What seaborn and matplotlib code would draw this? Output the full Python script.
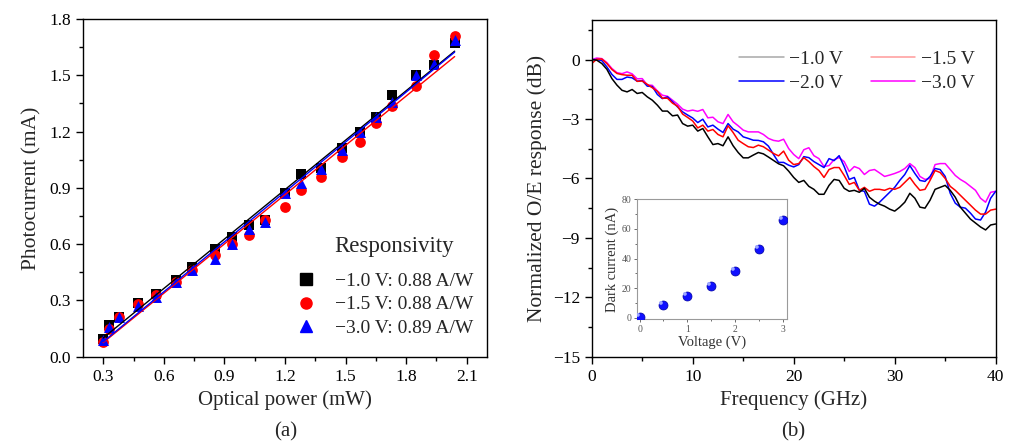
import numpy as np
import pandas as pd
import matplotlib
matplotlib.use("Agg")
import matplotlib.pyplot as plt
from matplotlib.lines import Line2D
from matplotlib.ticker import MultipleLocator
import matplotlib.path as mpath
import seaborn as sns

# ---------------- data: panel (a) ----------------
power_mw = [0.30, 0.33, 0.38, 0.47, 0.56, 0.66, 0.74, 0.855, 0.94, 1.02, 1.10,
            1.20, 1.28, 1.38, 1.48, 1.57, 1.65, 1.73, 1.85, 1.94, 2.04]
current_1v0 = [0.093, 0.17, 0.213, 0.288, 0.334, 0.41, 0.48, 0.573, 0.636, 0.70, 0.73,
               0.87, 0.974, 1.004, 1.11, 1.20, 1.28, 1.395, 1.50, 1.555, 1.67]
current_1v5 = [0.077, 0.15, 0.21, 0.28, 0.33, 0.40, 0.46, 0.54, 0.60, 0.65, 0.73,
               0.80, 0.886, 0.956, 1.067, 1.147, 1.245, 1.337, 1.443, 1.61, 1.71]
current_3v0 = [0.09, 0.16, 0.21, 0.27, 0.32, 0.40, 0.46, 0.52, 0.60, 0.68, 0.72,
               0.87, 0.928, 1.00, 1.10, 1.20, 1.276, 1.36, 1.50, 1.56, 1.69]
resp_labels = ["\u22121.0 V: 0.88 A/W", "\u22121.5 V: 0.88 A/W", "\u22123.0 V: 0.89 A/W"]
resp_title = "Responsivity"

# ---------------- data: panel (b) ----------------
freq_ghz = [0.0, 0.5, 1.0, 1.5, 2.0, 2.5, 3.0, 3.5, 4.0, 4.5, 5.0, 5.5, 6.0, 6.5, 7.0, 7.5,
            8.0, 8.5, 9.0, 9.5, 10.0, 10.5, 11.0, 11.5, 12.0, 12.5, 13.0, 13.5, 14.0, 14.5,
            15.0, 15.5, 16.0, 16.5, 17.0, 17.5, 18.0, 18.5, 19.0, 19.5, 20.0, 20.5, 21.0,
            21.5, 22.0, 22.5, 23.0, 23.5, 24.0, 24.5, 25.0, 25.5, 26.0, 26.5, 27.0, 27.5,
            28.0, 28.5, 29.0, 29.5, 30.0, 30.5, 31.0, 31.5, 32.0, 32.5, 33.0, 33.5, 34.0,
            34.5, 35.0, 35.5, 36.0, 36.5, 37.0, 37.5, 38.0, 38.5, 39.0, 39.5, 40.0]
resp_1v0 = [0.0, -0.03, -0.2, -0.49, -0.96, -1.29, -1.55, -1.63, -1.51, -1.71, -1.66, -1.88,
            -2.05, -2.3, -2.6, -2.6, -2.84, -2.8, -3.23, -3.36, -3.31, -3.61, -3.48, -3.9,
            -4.29, -4.24, -4.35, -3.9, -4.35, -4.69, -4.96, -4.96, -4.82, -4.69, -4.76, -4.92,
            -5.09, -5.26, -5.36, -5.63, -5.95, -6.2, -6.1, -6.4, -6.55, -6.8, -6.8, -6.35,
            -6.05, -6.1, -6.5, -6.65, -6.6, -6.7, -6.5, -6.95, -7.15, -7.3, -7.4, -7.55,
            -7.65, -7.45, -7.2, -6.75, -7.0, -7.45, -7.5, -7.1, -6.55, -6.45, -6.35, -6.6,
            -6.95, -7.45, -7.75, -8.05, -8.25, -8.45, -8.6, -8.35, -8.3]
resp_1v5 = [-0.2, 0.02, 0.03, -0.2, -0.5, -0.7, -0.76, -0.79, -0.79, -1.1, -1.08, -1.25,
            -1.42, -1.6, -1.95, -1.95, -2.2, -2.35, -2.75, -2.92, -3.1, -3.45, -3.31, -3.61,
            -3.53, -3.78, -3.9, -3.34, -3.68, -4.07, -4.24, -4.4, -4.44, -4.32, -4.4, -4.57,
            -4.74, -4.86, -4.62, -5.08, -5.3, -5.25, -4.95, -5.15, -5.4, -5.6, -5.95, -5.55,
            -5.45, -5.45, -5.85, -6.3, -6.2, -6.6, -6.45, -6.65, -6.55, -6.55, -6.6, -6.5,
            -6.55, -6.45, -6.2, -5.95, -6.3, -6.6, -6.55, -6.1, -5.6, -5.7, -6.0, -6.4,
            -6.6, -6.85, -7.1, -7.35, -7.6, -7.8, -7.8, -7.6, -7.55]
resp_2v0 = [0.0, 0.0, -0.05, -0.37, -0.75, -1.0, -1.0, -0.88, -0.92, -1.09, -1.06, -1.34,
            -1.36, -1.76, -1.97, -1.88, -2.13, -2.39, -2.64, -2.8, -2.95, -3.18, -3.01, -3.4,
            -3.31, -3.51, -3.68, -3.23, -3.51, -3.65, -3.9, -3.98, -4.07, -4.08, -4.15, -4.37,
            -4.79, -5.19, -5.19, -5.33, -5.42, -5.3, -4.9, -4.95, -5.15, -5.3, -5.45, -5.0,
            -5.1, -4.85, -5.4, -6.05, -5.95, -6.6, -6.65, -7.3, -7.4, -7.2, -6.95, -6.7,
            -6.45, -6.1, -5.8, -5.35, -5.75, -6.1, -6.15, -5.9, -5.5, -5.55, -5.9, -6.75,
            -7.25, -7.45, -7.5, -7.75, -8.05, -8.1, -7.7, -7.0, -6.65]
resp_3v0 = [0.0, 0.08, 0.05, -0.15, -0.45, -0.66, -0.71, -0.62, -0.72, -0.97, -0.96, -1.28,
            -1.3, -1.58, -1.8, -1.85, -2.05, -2.25, -2.5, -2.6, -2.55, -2.61, -2.52, -2.94,
            -2.91, -3.14, -3.23, -2.77, -3.14, -3.34, -3.56, -3.65, -3.65, -3.65, -3.78, -3.98,
            -4.08, -4.12, -4.02, -4.49, -4.79, -5.0, -4.55, -4.45, -4.85, -5.0, -5.4, -5.35,
            -5.05, -4.95, -5.15, -5.65, -5.4, -5.5, -5.8, -5.6, -5.55, -5.72, -5.9, -5.83,
            -5.75, -5.65, -5.5, -5.25, -5.45, -5.9, -6.05, -6.0, -5.3, -5.25, -5.25, -5.55,
            -5.85, -6.05, -6.2, -6.4, -6.6, -7.0, -7.2, -6.7, -6.65]
bias_labels = ["\u22121.0 V", "\u22121.5 V", "\u22122.0 V", "\u22123.0 V"]

# inset: dark current
voltage_v = [0, 0.5, 1.0, 1.5, 2.0, 2.5, 3.0]
dark_na = [0.3, 8.5, 15.0, 21.7, 31.4, 46.4, 66.1]

# ---------------- style ----------------
sns.set_theme(style="ticks")
plt.rcParams["font.family"] = ["Liberation Serif", "DejaVu Serif"]
plt.rcParams["axes.unicode_minus"] = True

fig = plt.figure(figsize=(10.16, 4.48), dpi=100)
axA = fig.add_axes([0.0817, 0.2038, 0.3976, 0.7538])
axB = fig.add_axes([0.5824, 0.2038, 0.3976, 0.7516])

def style_axes(ax):
    for s in ax.spines.values():
        s.set_color("black")
        s.set_linewidth(1.0)
    ax.tick_params(which="both", direction="out", top=False, right=False,
                   colors="black", labelsize=12.5)
    ax.tick_params(which="major", length=5, width=1.0)
    ax.tick_params(which="minor", length=3, width=1.0)

# ---------------- panel (a) ----------------
series_a = [(current_1v0, "black", "s", 52), (current_1v5, "red", "o", 60),
            (current_3v0, "blue", "^", 62)]
handles_a = []
for (yv, col, mk, sz), lab in zip(series_a, resp_labels):
    sns.regplot(x=np.array(power_mw), y=np.array(yv), ax=axA, ci=None, truncate=True,
                marker=mk, color=col,
                scatter_kws=dict(s=sz, linewidths=0, alpha=1),
                line_kws=dict(lw=1.0))
    handles_a.append(Line2D([], [], ls="none", marker=mk, color=col, markersize=8, label=lab))

axA.set_xlim(0.2, 2.2)
axA.set_ylim(0, 1.8)
axA.xaxis.set_minor_locator(MultipleLocator(0.15))
axA.yaxis.set_minor_locator(MultipleLocator(0.15))
axA.set_xticks([0.3, 0.6, 0.9, 1.2, 1.5, 1.8, 2.1])
axA.set_xticklabels(["0.3", "0.6", "0.9", "1.2", "1.5", "1.8", "2.1"])
axA.set_yticks([0.0, 0.3, 0.6, 0.9, 1.2, 1.5, 1.8])
axA.set_yticklabels(["0.0", "0.3", "0.6", "0.9", "1.2", "1.5", "1.8"])
style_axes(axA)
axA.set_xlabel("Optical power (mW)", fontsize=15, labelpad=4)
axA.set_ylabel("Photocurrent (mA)", fontsize=15.5, labelpad=6)
axA.legend(handles=handles_a, loc="lower right", bbox_to_anchor=(0.99, 0.03),
           frameon=False, fontsize=14, handlelength=1.0, handletextpad=1.0,
           labelspacing=0.3, borderpad=0.0)
axA.text(0.77, 0.325, resp_title, transform=axA.transAxes, ha="center", va="center",
         fontsize=16.5)

# ---------------- panel (b) ----------------
df_b = pd.DataFrame({
    "freq": freq_ghz * 4,
    "resp": resp_1v0 + resp_1v5 + resp_2v0 + resp_3v0,
    "bias": sum([[b] * len(freq_ghz) for b in bias_labels], []),
})
pal = {bias_labels[0]: "black", bias_labels[1]: "red",
       bias_labels[2]: "blue", bias_labels[3]: "magenta"}
sns.lineplot(data=df_b, x="freq", y="resp", hue="bias", palette=pal, ax=axB,
             lw=1.1, legend=False, hue_order=[bias_labels[3], bias_labels[2],
                                               bias_labels[1], bias_labels[0]])
axB.set_xlim(0, 40)
axB.set_ylim(-15, 2)
axB.xaxis.set_major_locator(MultipleLocator(10))
axB.xaxis.set_minor_locator(MultipleLocator(5))
axB.yaxis.set_major_locator(MultipleLocator(3))
axB.yaxis.set_minor_locator(MultipleLocator(1.5))
style_axes(axB)
axB.set_xlabel("Frequency (GHz)", fontsize=15, labelpad=4)
axB.set_ylabel("Normalized O/E response (dB)", fontsize=15.5, labelpad=4)
handles_b = [Line2D([], [], color="#a8a8a8", lw=1.1, label=bias_labels[0]),
             Line2D([], [], color="blue", lw=1.1, label=bias_labels[2]),
             Line2D([], [], color="#ff9a9a", lw=1.1, label=bias_labels[1]),
             Line2D([], [], color="magenta", lw=1.1, label=bias_labels[3])]
axB.legend(handles=handles_b, ncol=2, loc="upper left", bbox_to_anchor=(0.34, 0.94),
           frameon=False, fontsize=14, handlelength=2.3, handletextpad=0.3,
           columnspacing=1.4, labelspacing=0.34, borderpad=0.0)

# ---------------- inset ----------------
axI = fig.add_axes([0.6267, 0.2873, 0.1476, 0.2679])
sns.scatterplot(x=voltage_v, y=dark_na, ax=axI, color="#1010ff", s=42,
                edgecolor="#0000a0", linewidth=0.5, zorder=3)
hl = mpath.Path.circle(center=(-0.3, 0.3), radius=0.22)
sns.scatterplot(x=voltage_v, y=dark_na, ax=axI, color="#9fa8ff", s=42, marker=hl,
                linewidth=0, zorder=4)
axI.set_xlim(-0.06, 3.08)
axI.set_ylim(-1, 80)
axI.xaxis.set_major_locator(MultipleLocator(1))
axI.xaxis.set_minor_locator(MultipleLocator(0.5))
axI.yaxis.set_major_locator(MultipleLocator(20))
axI.yaxis.set_minor_locator(MultipleLocator(10))
for s in axI.spines.values():
    s.set_color("#9a9a9a")
    s.set_linewidth(0.8)
axI.tick_params(which="both", direction="out", labelsize=7, colors="#555555",
                top=False, right=False, pad=1.5)
axI.tick_params(which="major", length=2.5, width=0.6)
axI.tick_params(which="minor", length=1.5, width=0.6)
axI.set_xlabel("Voltage (V)", fontsize=10.5, labelpad=1, color="#333333")
axI.set_ylabel("Dark current (nA)", fontsize=10.5, labelpad=2, color="#333333")

# ---------------- panel captions ----------------
fig.text(0.281, 0.035, "(a)", ha="center", va="center", fontsize=15)
fig.text(0.781, 0.035, "(b)", ha="center", va="center", fontsize=15)

fig.savefig("out.png", dpi=100)
